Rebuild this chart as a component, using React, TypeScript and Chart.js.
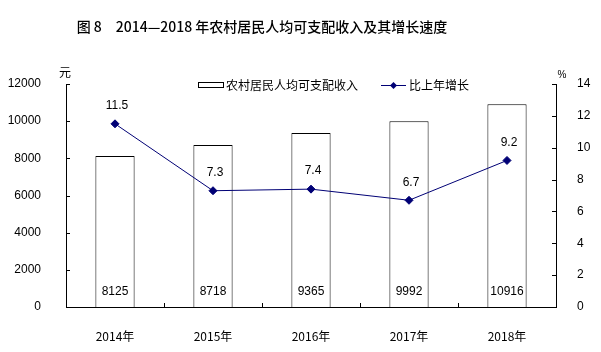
import React, { useEffect, useRef } from "react";
import { Chart, registerables } from "chart.js";

Chart.register(...registerables);

const categories = ["2014年", "2015年", "2016年", "2017年", "2018年"];
const incomeValues = [8125, 8718, 9365, 9992, 10916];
const growthValues = [11.5, 7.3, 7.4, 6.7, 9.2];
const leftTicks = [0, 2000, 4000, 6000, 8000, 10000, 12000];
const rightTicks = [0, 2, 4, 6, 8, 10, 12, 14];
const titleText = "图 8　2014—2018 年农村居民人均可支配收入及其增长速度";
const incomeLabel = "农村居民人均可支配收入";
const growthLabel = "比上年增长";

const LINE_COLOR = "#000075";
const FONT = "'Liberation Sans', 'Noto Sans CJK SC', sans-serif";
const CJK = "'Noto Sans CJK SC', sans-serif";

const decorPlugin = {
  id: "decor",
  afterDatasetsDraw(chart: any) {
    const ctx = chart.ctx;
    const x = chart.scales.x;
    const yL = chart.scales.y;
    const yR = chart.scales.y1;
    const area = chart.chartArea;
    ctx.save();
    ctx.strokeStyle = "#000";
    ctx.lineWidth = 1;
    leftTicks.forEach((v) => {
      const py = Math.round(yL.getPixelForValue(v)) + 0.5;
      ctx.beginPath();
      ctx.moveTo(area.left, py);
      ctx.lineTo(area.left + 4, py);
      ctx.stroke();
    });
    rightTicks.forEach((v) => {
      const py = Math.round(yR.getPixelForValue(v)) + 0.5;
      ctx.beginPath();
      ctx.moveTo(area.right - 4, py);
      ctx.lineTo(area.right, py);
      ctx.stroke();
    });
    for (let i = 0; i < categories.length - 1; i++) {
      const px = Math.round((x.getPixelForValue(i) + x.getPixelForValue(i + 1)) / 2) + 0.5;
      ctx.beginPath();
      ctx.moveTo(px, area.bottom);
      ctx.lineTo(px, area.bottom - 4);
      ctx.stroke();
    }
    ctx.fillStyle = "#000";
    ctx.font = "12px " + FONT;
    ctx.textAlign = "center";
    ctx.textBaseline = "middle";
    const barMeta = chart.getDatasetMeta(0);
    barMeta.data.forEach((el: any, i: number) => {
      ctx.fillText(String(incomeValues[i]), el.x, area.bottom - 15);
    });
    const lineMeta = chart.getDatasetMeta(1);
    lineMeta.data.forEach((el: any, i: number) => {
      ctx.fillText(growthValues[i].toFixed(1), el.x + 2, el.y - 18);
    });
    ctx.font = "500 14px " + CJK;
    ctx.fillText(titleText, 262, 27);
    ctx.font = "12px " + CJK;
    ctx.fillText("元", 65, 72);
    ctx.font = "10px " + FONT;
    ctx.fillText("%", 562, 75);
    ctx.fillStyle = "#fff";
    ctx.fillRect(198.5, 82.5, 25, 5);
    ctx.strokeRect(198.5, 82.5, 25, 5);
    ctx.fillStyle = "#000";
    ctx.font = "12px " + CJK;
    ctx.textAlign = "left";
    ctx.fillText(incomeLabel, 226, 85);
    ctx.strokeStyle = LINE_COLOR;
    ctx.beginPath();
    ctx.moveTo(381, 85.5);
    ctx.lineTo(406, 85.5);
    ctx.stroke();
    ctx.fillStyle = LINE_COLOR;
    ctx.beginPath();
    ctx.moveTo(393.5, 82);
    ctx.lineTo(397, 85.5);
    ctx.lineTo(393.5, 89);
    ctx.lineTo(390, 85.5);
    ctx.closePath();
    ctx.fill();
    ctx.fillStyle = "#000";
    ctx.fillText(growthLabel, 409, 85);
    ctx.restore();
  },
};

export default function App() {
  const ref = useRef<HTMLCanvasElement | null>(null);
  useEffect(() => {
    document.body.style.margin = "0";
    const chart = new Chart(ref.current as HTMLCanvasElement, {
      type: "bar",
      data: {
        labels: categories,
        datasets: [
          {
            type: "bar",
            label: incomeLabel,
            data: incomeValues,
            backgroundColor: "#fff",
            borderColor: "#000",
            borderWidth: 1,
            barPercentage: 0.4,
            categoryPercentage: 1,
            yAxisID: "y",
            order: 1,
          },
          {
            type: "line",
            label: growthLabel,
            data: growthValues,
            borderColor: LINE_COLOR,
            backgroundColor: LINE_COLOR,
            borderWidth: 1,
            pointStyle: "rectRot",
            pointRadius: 4,
            pointBackgroundColor: LINE_COLOR,
            pointBorderColor: LINE_COLOR,
            yAxisID: "y1",
            order: 0,
          },
        ] as any,
      },
      options: {
        animation: false,
        responsive: false,
        devicePixelRatio: 1,
        layout: { padding: { top: 84, left: 0, right: 0, bottom: 0 } },
        plugins: { legend: { display: false }, title: { display: false }, tooltip: { enabled: false } },
        scales: {
          x: {
            grid: { display: false },
            border: { display: true, color: "#000", width: 1 },
            ticks: { color: "#000", font: { family: CJK, size: 12 }, padding: 14 },
            afterFit: (s: any) => { s.height = 45; },
          },
          y: {
            position: "left",
            min: 0,
            max: 12000,
            grid: { display: false },
            border: { display: true, color: "#000", width: 1 },
            afterBuildTicks: (s: any) => { s.ticks = leftTicks.map((v) => ({ value: v })); },
            ticks: { color: "#000", font: { family: FONT, size: 12 }, padding: 17, callback: (v: any) => String(v) },
            afterFit: (s: any) => { s.width = 66; },
          },
          y1: {
            position: "right",
            min: 0,
            max: 14,
            grid: { display: false },
            border: { display: true, color: "#000", width: 1 },
            afterBuildTicks: (s: any) => { s.ticks = rightTicks.map((v) => ({ value: v })); },
            ticks: { color: "#000", font: { family: FONT, size: 12 }, padding: 13, callback: (v: any) => String(v) },
            afterFit: (s: any) => { s.width = 45; },
          },
        },
      } as any,
      plugins: [decorPlugin],
    });
    return () => chart.destroy();
  }, []);
  return <canvas ref={ref} width={601} height={352} style={{ display: "block" }} />;
}
